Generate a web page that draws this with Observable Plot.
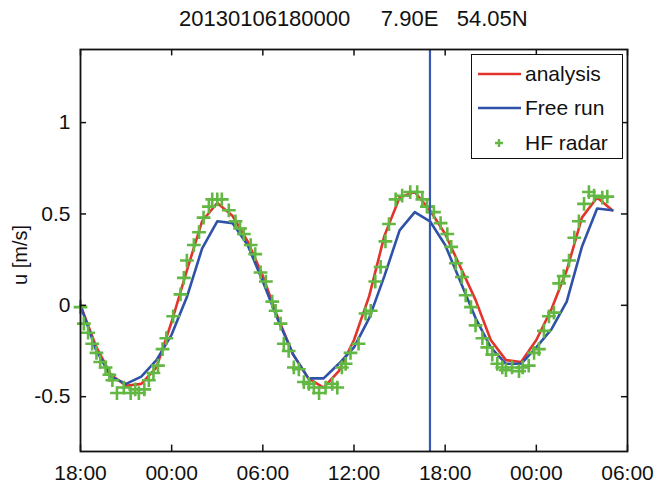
<!DOCTYPE html>
<html><head><meta charset="utf-8">
<script src="https://cdn.jsdelivr.net/npm/d3@7"></script>
<script src="https://cdn.jsdelivr.net/npm/@observablehq/plot@0.6"></script>
<style>
body{margin:0;background:#fff;font-family:"Liberation Sans",Arial,sans-serif;color:#111;}
#wrap{position:relative;width:657px;height:486px;overflow:hidden;}
#chart{position:absolute;left:0;top:0;}
#title{position:absolute;left:179px;top:8px;font-size:22px;line-height:22px;white-space:pre;}
#ylabel{position:absolute;left:20px;top:255px;font-size:20px;line-height:20px;white-space:nowrap;transform:translate(-50%,-50%) rotate(-90deg);}
#legend{position:absolute;left:471px;top:54px;width:152px;height:105px;border:1.5px solid #111;background:#fff;box-sizing:border-box;}
.row{position:absolute;left:0;height:24px;width:150px;}
.row svg{position:absolute;left:6px;top:0;}
.row span{position:absolute;left:53px;top:0;font-size:21px;line-height:24px;white-space:nowrap;}
</style>
</head><body>
<div id="wrap">
<div id="chart"></div>
<div id="title"></div>
<div id="ylabel"></div>
<div id="legend"></div>
</div>
<script>
// ---- data ----
const hours = [0,1,2,3,4,5,6,7,8,9,10,11,12,13,14,15,16,17,18,19,20,21,22,23,24,25,26,27,28,29,30,31,32,33,34,35];
const analysis = [0.00,-0.22,-0.38,-0.44,-0.43,-0.34,-0.09,0.19,0.46,0.56,0.49,0.35,0.16,-0.07,-0.27,-0.40,-0.45,-0.36,-0.19,0.05,0.38,0.59,0.62,0.52,0.39,0.21,0.03,-0.19,-0.30,-0.31,-0.19,-0.02,0.19,0.48,0.59,0.52];
const freeRun = [0.00,-0.24,-0.39,-0.43,-0.39,-0.30,-0.16,0.045,0.31,0.46,0.45,0.33,0.13,-0.08,-0.27,-0.40,-0.40,-0.32,-0.23,-0.07,0.16,0.41,0.51,0.46,0.33,0.13,-0.07,-0.23,-0.32,-0.32,-0.23,-0.13,0.02,0.32,0.53,0.52];
const radarHours = [0.0,0.22,0.5,0.77,1.05,1.3,1.65,1.9,2.1,2.4,2.85,3.3,3.6,3.84,4.2,4.5,4.8,5.1,5.4,5.65,6.1,6.58,6.8,7.0,7.46,7.8,8.1,8.45,8.67,9.0,9.3,9.76,10.2,10.5,10.75,11.2,11.5,11.85,12.2,12.62,12.84,13.17,13.38,13.7,14.04,14.37,14.7,15.03,15.36,15.7,16.13,16.57,16.9,17.2,17.45,17.77,18.3,18.76,19.1,19.4,19.75,20.07,20.3,20.74,21.17,21.7,22.16,22.5,22.8,23.26,23.7,24.14,24.4,24.7,25.1,25.35,25.7,26.0,26.45,26.77,27.1,27.43,27.76,28.0,28.4,28.86,29.1,29.5,29.85,30.17,30.5,30.83,31.16,31.5,31.8,32.15,32.5,32.8,33.14,33.46,33.8,34.34,34.67];
const radarValues = [-0.01,-0.10,-0.15,-0.21,-0.26,-0.31,-0.34,-0.38,-0.41,-0.48,-0.45,-0.48,-0.46,-0.48,-0.46,-0.41,-0.37,-0.33,-0.24,-0.18,-0.06,0.06,0.15,0.245,0.33,0.40,0.48,0.54,0.58,0.58,0.58,0.52,0.46,0.42,0.39,0.33,0.28,0.18,0.13,0.02,-0.03,-0.10,-0.21,-0.25,-0.34,-0.35,-0.42,-0.43,-0.45,-0.48,-0.45,-0.43,-0.45,-0.34,-0.32,-0.26,-0.21,-0.045,-0.03,0.13,0.21,0.35,0.445,0.58,0.60,0.62,0.62,0.58,0.54,0.51,0.45,0.39,0.32,0.23,0.155,0.055,-0.01,-0.11,-0.18,-0.23,-0.27,-0.32,-0.34,-0.355,-0.34,-0.36,-0.34,-0.33,-0.26,-0.24,-0.14,-0.06,-0.04,0.12,0.16,0.245,0.37,0.46,0.555,0.62,0.60,0.59,0.595];
const markerHour = [23];
const xTicks = [0,6,12,18,24,30,36];
const xTickLabels = ["18:00","00:00","06:00","12:00","18:00","00:00","06:00"];
const yTicks = [-0.5,0,0.5,1];
const yTickLabels = ["-0.5","0","0.5","1"];
const xDomain = [0,36];
const yDomain = [-0.8,1.4];
const titleText = "20130106180000     7.90E   54.05N";
const yLabel = "u [m/s]";
const seriesNames = ["analysis","Free run","HF radar"];

// ---- styling ----
const RED = "#e3342c", BLUE = "#2f52a8", GREEN = "#62b842", VBLUE = "#3658b0";

const lineRows = hours.map((h,i)=>({h, a:analysis[i], f:freeRun[i]}));
const radar = radarHours.map((h,i)=>({h, v:radarValues[i]}));
const tlx = 0.4, tly = 0.035; // inward tick lengths in data units

const chart = Plot.plot({
  width:657, height:486,
  marginLeft:80, marginRight:30, marginTop:49, marginBottom:35,
  style:{fontFamily:"'Liberation Sans', Arial, sans-serif", fontSize:"21px", background:"transparent", color:"#111"},
  x:{domain:xDomain},
  y:{domain:yDomain},
  marks:[
    Plot.axisX({ticks:xTicks, tickFormat:d=>xTickLabels[xTicks.indexOf(d)], tickSize:0, tickPadding:14, label:null}),
    Plot.axisY({ticks:yTicks, tickFormat:d=>yTickLabels[yTicks.indexOf(d)], tickSize:0, tickPadding:10, label:null}),
    Plot.line(lineRows, {x:"h", y:"a", stroke:RED, strokeWidth:2.6}),
    Plot.line(lineRows, {x:"h", y:"f", stroke:BLUE, strokeWidth:2.6}),
    Plot.dot(radar, {x:"h", y:"v", symbol:"plus", r:4.5, stroke:GREEN, strokeWidth:2.6}),
    Plot.ruleX(markerHour, {stroke:VBLUE, strokeWidth:2.2}),
    Plot.ruleX(xTicks, {y1:yDomain[0], y2:yDomain[0]+tly, stroke:"#111", strokeWidth:1.5}),
    Plot.ruleX(xTicks, {y1:yDomain[1], y2:yDomain[1]-tly, stroke:"#111", strokeWidth:1.5}),
    Plot.ruleY(yTicks, {x1:xDomain[0], x2:xDomain[0]+tlx, stroke:"#111", strokeWidth:1.5}),
    Plot.ruleY(yTicks, {x1:xDomain[1], x2:xDomain[1]-tlx, stroke:"#111", strokeWidth:1.5}),
    Plot.frame({stroke:"#111", strokeWidth:1.8})
  ]
});
document.getElementById("chart").appendChild(chart);
document.getElementById("title").textContent = titleText;
document.getElementById("ylabel").textContent = yLabel;

// ---- legend ----
const legend = document.getElementById("legend");
const legendItems = [
  {name:seriesNames[0], kind:"line", color:RED, top:7},
  {name:seriesNames[1], kind:"line", color:BLUE, top:41},
  {name:seriesNames[2], kind:"plus", color:GREEN, top:76}
];
for (const it of legendItems) {
  const row = document.createElement("div");
  row.className = "row"; row.style.top = it.top + "px";
  const sw = it.kind === "line"
    ? `<svg width="44" height="24"><line x1="0" x2="43" y1="12" y2="12" stroke="${it.color}" stroke-width="2.6"/></svg>`
    : `<svg width="44" height="24"><path d="M21,8v8M17,12h8" stroke="${it.color}" stroke-width="2.4"/></svg>`;
  row.innerHTML = sw + `<span></span>`;
  row.querySelector("span").textContent = it.name;
  legend.appendChild(row);
}
</script>
</body></html>
